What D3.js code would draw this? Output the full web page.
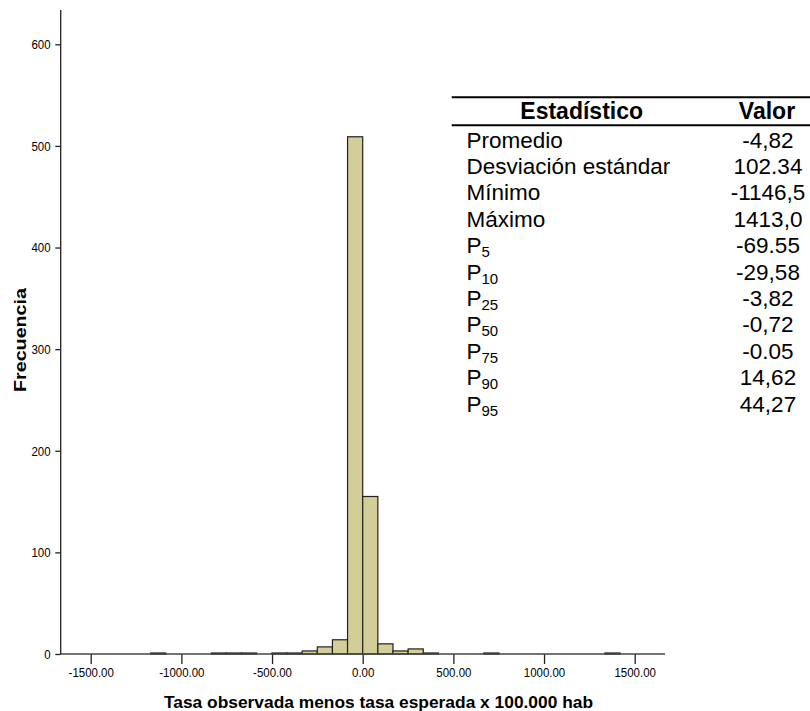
<!DOCTYPE html>
<html>
<head>
<meta charset="utf-8">
<script src="https://cdn.jsdelivr.net/npm/d3@7"></script>
<style>
  body { margin: 0; background: #fff; }
  svg { font-family: "Liberation Sans", Arial, sans-serif; }
</style>
</head>
<body>
<div id="chart"></div>
<script>
// Histogram bins (start of bin, width, count)
const binStarts = [-1169, -835, -751.5, -668, -501, -417.5, -334, -250.5, -167, -83.5, 0, 83.5, 167, 250.5, 334, 668, 1336];
const binWidth = 83.5;
const binCounts = [1, 1, 1, 1, 1, 1, 3, 7, 14, 509, 155, 10, 3, 5, 1, 1, 1];

const xTicks = [-1500, -1000, -500, 0, 500, 1000, 1500];
const yTicks = [0, 100, 200, 300, 400, 500, 600];

// Summary table
const statLabels = ["Promedio", "Desviación estándar", "Mínimo", "Máximo", "P", "P", "P", "P", "P", "P", "P"];
const statSubs = ["", "", "", "", "5", "10", "25", "50", "75", "90", "95"];
const statValues = ["-4,82", "102.34", "-1146,5", "1413,0", "-69.55", "-29,58", "-3,82", "-0,72", "-0.05", "14,62", "44,27"];

const width = 810, height = 711;

const svg = d3.select("#chart").append("svg")
  .attr("width", width)
  .attr("height", height);

const x = d3.scaleLinear().domain([-1500, 1500]).range([90.7, 634.7]);
const y = d3.scaleLinear().domain([0, 600]).range([654, 44.3]);

const bins = binStarts.map((s, i) => ({ x0: s, x1: s + binWidth, n: binCounts[i] }));

// bars
svg.append("g")
  .selectAll("rect")
  .data(bins)
  .join("rect")
  .attr("x", d => x(d.x0))
  .attr("y", d => y(d.n))
  .attr("width", d => x(d.x1) - x(d.x0))
  .attr("height", d => y(0) - y(d.n))
  .attr("fill", "#d3ce97")
  .attr("stroke", "#222")
  .attr("stroke-width", 1.2);

// axes (SPSS style narrow labels)
const fmtX = d => d3.format(".2f")(d).replace("−", "-");

const xAxis = svg.append("g")
  .attr("transform", `translate(0,${y(0)})`)
  .call(d3.axisBottom(x).tickValues(xTicks).tickFormat(fmtX).tickSize(10).tickSizeOuter(0).tickPadding(3));
xAxis.select(".domain").remove();
xAxis.selectAll(".tick line").attr("stroke", "#222").attr("stroke-width", 1.3);
xAxis.selectAll("text")
  .attr("font-size", 13.5).attr("fill", "#000")
  .attr("font-family", "'Liberation Sans', Arial, sans-serif")
  .attr("transform", "scale(0.85,1)");

const yAxis = svg.append("g")
  .attr("transform", "translate(60.7,0)")
  .call(d3.axisLeft(y).tickValues(yTicks).tickSize(5.4).tickSizeOuter(0));
yAxis.select(".domain").remove();
yAxis.selectAll(".tick line").attr("stroke", "#222").attr("stroke-width", 1.3);
yAxis.selectAll("text")
  .attr("x", -12)
  .attr("font-size", 13.5).attr("fill", "#000")
  .attr("font-family", "'Liberation Sans', Arial, sans-serif")
  .attr("transform", "scale(0.85,1)");

// axis lines
svg.append("line")
  .attr("x1", 60.7).attr("x2", 665)
  .attr("y1", y(0)).attr("y2", y(0))
  .attr("stroke", "#444").attr("stroke-width", 1.3);
svg.append("line")
  .attr("x1", 60.7).attr("x2", 60.7)
  .attr("y1", 10).attr("y2", y(0))
  .attr("stroke", "#222").attr("stroke-width", 1.3);

// axis titles
svg.append("text")
  .attr("x", 164).attr("y", 708)
  .attr("font-size", 17).attr("font-weight", "bold")
  .attr("textLength", 429).attr("lengthAdjust", "spacingAndGlyphs")
  .text("Tasa observada menos tasa esperada x 100.000 hab");

svg.append("text")
  .attr("transform", "translate(26,340) rotate(-90)")
  .attr("x", -52)
  .attr("font-size", 16).attr("font-weight", "bold")
  .attr("textLength", 104).attr("lengthAdjust", "spacingAndGlyphs")
  .text("Frecuencia");

// summary table
const table = svg.append("g");
table.append("line")
  .attr("x1", 451.7).attr("x2", 810).attr("y1", 97.3).attr("y2", 97.3)
  .attr("stroke", "#000").attr("stroke-width", 2);
table.append("line")
  .attr("x1", 451.7).attr("x2", 810).attr("y1", 125.3).attr("y2", 125.3)
  .attr("stroke", "#000").attr("stroke-width", 2);

table.append("text")
  .attr("x", 581.7).attr("y", 119.3)
  .attr("text-anchor", "middle")
  .attr("font-size", 23).attr("font-weight", "bold")
  .text("Estadístico");
table.append("text")
  .attr("x", 767).attr("y", 119.3)
  .attr("text-anchor", "middle")
  .attr("font-size", 23).attr("font-weight", "bold")
  .text("Valor");

const rowY = i => 147.5 + i * 26.4;

const labels = table.selectAll(".lab")
  .data(statLabels)
  .join("text")
  .attr("class", "lab")
  .attr("x", 466.5)
  .attr("y", (d, i) => rowY(i))
  .attr("font-size", 22.5);
labels.append("tspan").text(d => d);
labels.append("tspan")
  .attr("font-size", 15)
  .attr("dy", 4)
  .text((d, i) => statSubs[i]);

table.selectAll(".val")
  .data(statValues)
  .join("text")
  .attr("class", "val")
  .attr("x", 768)
  .attr("y", (d, i) => rowY(i))
  .attr("text-anchor", "middle")
  .attr("font-size", 22.5)
  .text(d => d);
</script>
</body>
</html>
